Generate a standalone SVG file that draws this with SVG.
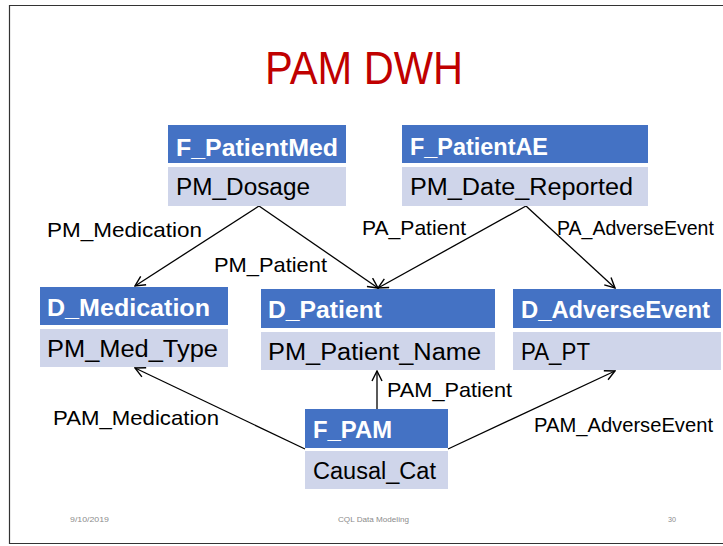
<svg xmlns="http://www.w3.org/2000/svg" width="723" height="546" viewBox="0 0 723 546">
  <style>
    .hdr { fill: #4472C4; }
    .body { fill: #CFD5EA; }
    .ht { font-family: "Liberation Sans", Arial, sans-serif; font-size: 23px; font-weight: bold; fill: #FFFFFF; }
    .bt { font-family: "Liberation Sans", Arial, sans-serif; font-size: 23px; fill: #000000; }
    .lbl { font-family: "Liberation Sans", Arial, sans-serif; font-size: 21px; fill: #000000; }
    .foot { font-family: "Liberation Sans", Arial, sans-serif; font-size: 8px; fill: #8C8C8C; }
    .edge { stroke: #000000; stroke-width: 1.3; fill: none; marker-end: url(#arrow); }
  </style>
  <defs>
    <marker id="arrow" viewBox="0 0 12 12" refX="11" refY="6" markerWidth="12" markerHeight="12" markerUnits="userSpaceOnUse" orient="auto">
      <path d="M1,1 L11,6 L1,11" fill="none" stroke="#000000" stroke-width="1.4"/>
    </marker>
  </defs>

  <!-- slide frame -->
  <rect x="0" y="0" width="723" height="546" fill="#FFFFFF"/>
  <path d="M9.5,544 L9.5,5.5 L730,5.5 M9.5,543.5 L730,543.5" fill="none" stroke="#333333" stroke-width="1.2"/>

  <!-- title -->
  <text x="265" y="84" font-family="'Liberation Sans', Arial, sans-serif" font-size="46" fill="#C00000" textLength="198" lengthAdjust="spacingAndGlyphs">PAM DWH</text>

  <!-- connectors -->
  <g id="connectors">
    <line class="edge" x1="259" y1="206" x2="135" y2="286"/>
    <line class="edge" x1="259" y1="206" x2="378" y2="288"/>
    <line class="edge" x1="526" y1="206" x2="378" y2="288"/>
    <line class="edge" x1="526" y1="206" x2="615" y2="288"/>
    <line class="edge" x1="305" y1="449" x2="135" y2="368"/>
    <line class="edge" x1="377" y1="409" x2="377" y2="371"/>
    <line class="edge" x1="448" y1="449" x2="615" y2="371"/>
  </g>

  <!-- connector labels -->
  <g id="labels">
    <text class="lbl" x="47" y="237" textLength="155" lengthAdjust="spacingAndGlyphs">PM_Medication</text>
    <text class="lbl" x="214" y="272" textLength="113" lengthAdjust="spacingAndGlyphs">PM_Patient</text>
    <text class="lbl" x="362" y="235" textLength="104" lengthAdjust="spacingAndGlyphs">PA_Patient</text>
    <text class="lbl" x="557" y="235" style="font-size:19.5px">PA_AdverseEvent</text>
    <text class="lbl" x="387" y="397" textLength="125" lengthAdjust="spacingAndGlyphs">PAM_Patient</text>
    <text class="lbl" x="53" y="425" textLength="166" lengthAdjust="spacingAndGlyphs">PAM_Medication</text>
    <text class="lbl" x="534" y="432" textLength="179" lengthAdjust="spacingAndGlyphs">PAM_AdverseEvent</text>
  </g>

  <!-- tables -->
  <g id="F_PatientMed">
    <rect class="hdr" x="168" y="125" width="178" height="38"/>
    <rect class="body" x="168" y="167" width="178" height="39"/>
    <text class="ht" x="176" y="156" textLength="162" lengthAdjust="spacingAndGlyphs">F_PatientMed</text>
    <text class="bt" x="176" y="195" textLength="134" lengthAdjust="spacingAndGlyphs">PM_Dosage</text>
  </g>

  <g id="F_PatientAE">
    <rect class="hdr" x="402" y="125" width="246" height="38"/>
    <rect class="body" x="402" y="167" width="246" height="39"/>
    <text class="ht" x="410" y="155" textLength="138" lengthAdjust="spacingAndGlyphs">F_PatientAE</text>
    <text class="bt" x="410" y="195" textLength="223" lengthAdjust="spacingAndGlyphs">PM_Date_Reported</text>
  </g>

  <g id="D_Medication">
    <rect class="hdr" x="40" y="287" width="188" height="38"/>
    <rect class="body" x="40" y="329" width="188" height="38"/>
    <text class="ht" x="47" y="316" textLength="163" lengthAdjust="spacingAndGlyphs">D_Medication</text>
    <text class="bt" x="47" y="357" textLength="171" lengthAdjust="spacingAndGlyphs">PM_Med_Type</text>
  </g>

  <g id="D_Patient">
    <rect class="hdr" x="261" y="289" width="234" height="39"/>
    <rect class="body" x="261" y="332" width="234" height="38"/>
    <text class="ht" x="268" y="318" textLength="114" lengthAdjust="spacingAndGlyphs">D_Patient</text>
    <text class="bt" x="268" y="360" textLength="213" lengthAdjust="spacingAndGlyphs">PM_Patient_Name</text>
  </g>

  <g id="D_AdverseEvent">
    <rect class="hdr" x="513" y="289" width="208" height="39"/>
    <rect class="body" x="513" y="332" width="208" height="38"/>
    <text class="ht" x="521" y="318" textLength="189" lengthAdjust="spacingAndGlyphs">D_AdverseEvent</text>
    <text class="bt" x="521" y="360" textLength="69" lengthAdjust="spacingAndGlyphs">PA_PT</text>
  </g>

  <g id="F_PAM">
    <rect class="hdr" x="305" y="409" width="143" height="39"/>
    <rect class="body" x="305" y="451" width="143" height="38"/>
    <text class="ht" x="313" y="438" textLength="79" lengthAdjust="spacingAndGlyphs">F_PAM</text>
    <text class="bt" x="313" y="479" textLength="123" lengthAdjust="spacingAndGlyphs">Causal_Cat</text>
  </g>

  <!-- footer -->
  <text class="foot" x="70" y="522" textLength="39" lengthAdjust="spacingAndGlyphs">9/10/2019</text>
  <text class="foot" x="338" y="522" textLength="71" lengthAdjust="spacingAndGlyphs">CQL Data Modeling</text>
  <text class="foot" x="668" y="522" textLength="8" lengthAdjust="spacingAndGlyphs">30</text>
</svg>
